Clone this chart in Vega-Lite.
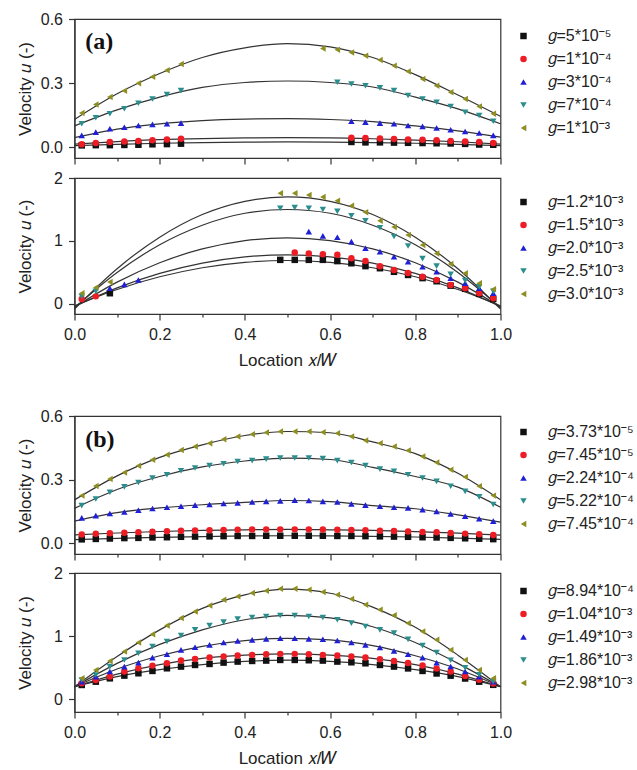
{
"$schema": "https://vega.github.io/schema/vega-lite/v6.json",
"padding": {"left": 15.5, "top": 10, "right": 0, "bottom": 0},
"background": "white",
"datasets": {
"a1p": [
{"g":"5*10⁻⁵","x":0.017,"u":0.009},{"g":"5*10⁻⁵","x":0.05,"u":0.010},{"g":"5*10⁻⁵","x":0.083,"u":0.010},{"g":"5*10⁻⁵","x":0.117,"u":0.011},{"g":"5*10⁻⁵","x":0.15,"u":0.012},{"g":"5*10⁻⁵","x":0.183,"u":0.014},{"g":"5*10⁻⁵","x":0.217,"u":0.015},{"g":"5*10⁻⁵","x":0.25,"u":0.017},
{"g":"5*10⁻⁵","x":0.65,"u":0.025},{"g":"5*10⁻⁵","x":0.683,"u":0.023},{"g":"5*10⁻⁵","x":0.717,"u":0.023},{"g":"5*10⁻⁵","x":0.75,"u":0.022},{"g":"5*10⁻⁵","x":0.783,"u":0.021},{"g":"5*10⁻⁵","x":0.817,"u":0.020},{"g":"5*10⁻⁵","x":0.85,"u":0.019},{"g":"5*10⁻⁵","x":0.883,"u":0.018},{"g":"5*10⁻⁵","x":0.917,"u":0.016},{"g":"5*10⁻⁵","x":0.95,"u":0.013},{"g":"5*10⁻⁵","x":0.983,"u":0.012},
{"g":"1*10⁻⁴","x":0.017,"u":0.014},{"g":"1*10⁻⁴","x":0.05,"u":0.020},{"g":"1*10⁻⁴","x":0.083,"u":0.025},{"g":"1*10⁻⁴","x":0.117,"u":0.027},{"g":"1*10⁻⁴","x":0.15,"u":0.030},{"g":"1*10⁻⁴","x":0.183,"u":0.033},{"g":"1*10⁻⁴","x":0.217,"u":0.036},{"g":"1*10⁻⁴","x":0.25,"u":0.040},
{"g":"1*10⁻⁴","x":0.65,"u":0.045},{"g":"1*10⁻⁴","x":0.683,"u":0.043},{"g":"1*10⁻⁴","x":0.717,"u":0.041},{"g":"1*10⁻⁴","x":0.75,"u":0.039},{"g":"1*10⁻⁴","x":0.783,"u":0.037},{"g":"1*10⁻⁴","x":0.817,"u":0.035},{"g":"1*10⁻⁴","x":0.85,"u":0.033},{"g":"1*10⁻⁴","x":0.883,"u":0.030},{"g":"1*10⁻⁴","x":0.917,"u":0.027},{"g":"1*10⁻⁴","x":0.95,"u":0.025},{"g":"1*10⁻⁴","x":0.983,"u":0.020},
{"g":"3*10⁻⁴","x":0.017,"u":0.056},{"g":"3*10⁻⁴","x":0.05,"u":0.071},{"g":"3*10⁻⁴","x":0.083,"u":0.087},{"g":"3*10⁻⁴","x":0.117,"u":0.094},{"g":"3*10⁻⁴","x":0.15,"u":0.102},{"g":"3*10⁻⁴","x":0.183,"u":0.107},{"g":"3*10⁻⁴","x":0.217,"u":0.110},{"g":"3*10⁻⁴","x":0.25,"u":0.113},
{"g":"3*10⁻⁴","x":0.65,"u":0.122},{"g":"3*10⁻⁴","x":0.683,"u":0.118},{"g":"3*10⁻⁴","x":0.717,"u":0.113},{"g":"3*10⁻⁴","x":0.75,"u":0.110},{"g":"3*10⁻⁴","x":0.783,"u":0.102},{"g":"3*10⁻⁴","x":0.817,"u":0.098},{"g":"3*10⁻⁴","x":0.85,"u":0.090},{"g":"3*10⁻⁴","x":0.883,"u":0.082},{"g":"3*10⁻⁴","x":0.917,"u":0.074},{"g":"3*10⁻⁴","x":0.95,"u":0.067},{"g":"3*10⁻⁴","x":0.983,"u":0.056},
{"g":"7*10⁻⁴","x":0.017,"u":0.110},{"g":"7*10⁻⁴","x":0.05,"u":0.138},{"g":"7*10⁻⁴","x":0.083,"u":0.157},{"g":"7*10⁻⁴","x":0.117,"u":0.180},{"g":"7*10⁻⁴","x":0.15,"u":0.206},{"g":"7*10⁻⁴","x":0.183,"u":0.226},{"g":"7*10⁻⁴","x":0.217,"u":0.247},{"g":"7*10⁻⁴","x":0.25,"u":0.265},
{"g":"7*10⁻⁴","x":0.617,"u":0.304},{"g":"7*10⁻⁴","x":0.65,"u":0.296},{"g":"7*10⁻⁴","x":0.683,"u":0.288},{"g":"7*10⁻⁴","x":0.717,"u":0.278},{"g":"7*10⁻⁴","x":0.75,"u":0.265},{"g":"7*10⁻⁴","x":0.783,"u":0.242},{"g":"7*10⁻⁴","x":0.817,"u":0.226},{"g":"7*10⁻⁴","x":0.85,"u":0.211},{"g":"7*10⁻⁴","x":0.883,"u":0.191},{"g":"7*10⁻⁴","x":0.917,"u":0.164},{"g":"7*10⁻⁴","x":0.95,"u":0.149},{"g":"7*10⁻⁴","x":0.983,"u":0.122},
{"g":"1*10⁻³","x":0.017,"u":0.160},{"g":"1*10⁻³","x":0.05,"u":0.200},{"g":"1*10⁻³","x":0.083,"u":0.235},{"g":"1*10⁻³","x":0.117,"u":0.265},{"g":"1*10⁻³","x":0.15,"u":0.300},{"g":"1*10⁻³","x":0.183,"u":0.330},{"g":"1*10⁻³","x":0.217,"u":0.360},{"g":"1*10⁻³","x":0.25,"u":0.390},
{"g":"1*10⁻³","x":0.583,"u":0.462},{"g":"1*10⁻³","x":0.617,"u":0.456},{"g":"1*10⁻³","x":0.65,"u":0.443},{"g":"1*10⁻³","x":0.683,"u":0.428},{"g":"1*10⁻³","x":0.717,"u":0.408},{"g":"1*10⁻³","x":0.75,"u":0.381},{"g":"1*10⁻³","x":0.783,"u":0.355},{"g":"1*10⁻³","x":0.817,"u":0.319},{"g":"1*10⁻³","x":0.85,"u":0.288},{"g":"1*10⁻³","x":0.883,"u":0.257},{"g":"1*10⁻³","x":0.917,"u":0.226},{"g":"1*10⁻³","x":0.95,"u":0.191},{"g":"1*10⁻³","x":0.983,"u":0.157}
],
"a1f": [
{"g":"5*10⁻⁵","x":0,"u":0.008},{"g":"5*10⁻⁵","x":0.1,"u":0.014},{"g":"5*10⁻⁵","x":0.2,"u":0.019},{"g":"5*10⁻⁵","x":0.3,"u":0.022},{"g":"5*10⁻⁵","x":0.4,"u":0.024},{"g":"5*10⁻⁵","x":0.5,"u":0.025},{"g":"5*10⁻⁵","x":0.6,"u":0.024},{"g":"5*10⁻⁵","x":0.7,"u":0.022},{"g":"5*10⁻⁵","x":0.8,"u":0.019},{"g":"5*10⁻⁵","x":0.9,"u":0.014},{"g":"5*10⁻⁵","x":1,"u":0.008},
{"g":"1*10⁻⁴","x":0,"u":0.015},{"g":"1*10⁻⁴","x":0.1,"u":0.027},{"g":"1*10⁻⁴","x":0.2,"u":0.036},{"g":"1*10⁻⁴","x":0.3,"u":0.041},{"g":"1*10⁻⁴","x":0.4,"u":0.044},{"g":"1*10⁻⁴","x":0.5,"u":0.045},{"g":"1*10⁻⁴","x":0.6,"u":0.044},{"g":"1*10⁻⁴","x":0.7,"u":0.040},{"g":"1*10⁻⁴","x":0.8,"u":0.034},{"g":"1*10⁻⁴","x":0.9,"u":0.026},{"g":"1*10⁻⁴","x":1,"u":0.015},
{"g":"3*10⁻⁴","x":0,"u":0.045},{"g":"3*10⁻⁴","x":0.1,"u":0.085},{"g":"3*10⁻⁴","x":0.2,"u":0.110},{"g":"3*10⁻⁴","x":0.3,"u":0.125},{"g":"3*10⁻⁴","x":0.4,"u":0.132},{"g":"3*10⁻⁴","x":0.5,"u":0.134},{"g":"3*10⁻⁴","x":0.6,"u":0.130},{"g":"3*10⁻⁴","x":0.7,"u":0.120},{"g":"3*10⁻⁴","x":0.8,"u":0.100},{"g":"3*10⁻⁴","x":0.9,"u":0.077},{"g":"3*10⁻⁴","x":1,"u":0.048},
{"g":"7*10⁻⁴","x":0,"u":0.100},{"g":"7*10⁻⁴","x":0.1,"u":0.175},{"g":"7*10⁻⁴","x":0.2,"u":0.235},{"g":"7*10⁻⁴","x":0.3,"u":0.280},{"g":"7*10⁻⁴","x":0.4,"u":0.303},{"g":"7*10⁻⁴","x":0.5,"u":0.310},{"g":"7*10⁻⁴","x":0.6,"u":0.303},{"g":"7*10⁻⁴","x":0.7,"u":0.282},{"g":"7*10⁻⁴","x":0.8,"u":0.235},{"g":"7*10⁻⁴","x":0.9,"u":0.180},{"g":"7*10⁻⁴","x":1,"u":0.110},
{"g":"1*10⁻³","x":0,"u":0.130},{"g":"1*10⁻³","x":0.1,"u":0.250},{"g":"1*10⁻³","x":0.2,"u":0.345},{"g":"1*10⁻³","x":0.3,"u":0.420},{"g":"1*10⁻³","x":0.4,"u":0.465},{"g":"1*10⁻³","x":0.5,"u":0.485},{"g":"1*10⁻³","x":0.6,"u":0.470},{"g":"1*10⁻³","x":0.7,"u":0.420},{"g":"1*10⁻³","x":0.8,"u":0.340},{"g":"1*10⁻³","x":0.9,"u":0.245},{"g":"1*10⁻³","x":1,"u":0.145}
],
"a2p": [
{"g":"1.2*10⁻³","x":0.083,"u":0.17},
{"g":"1.2*10⁻³","x":0.483,"u":0.70},{"g":"1.2*10⁻³","x":0.517,"u":0.70},{"g":"1.2*10⁻³","x":0.55,"u":0.70},{"g":"1.2*10⁻³","x":0.583,"u":0.70},{"g":"1.2*10⁻³","x":0.617,"u":0.68},{"g":"1.2*10⁻³","x":0.65,"u":0.646},{"g":"1.2*10⁻³","x":0.683,"u":0.60},{"g":"1.2*10⁻³","x":0.717,"u":0.567},{"g":"1.2*10⁻³","x":0.75,"u":0.51},{"g":"1.2*10⁻³","x":0.783,"u":0.46},{"g":"1.2*10⁻³","x":0.817,"u":0.41},{"g":"1.2*10⁻³","x":0.85,"u":0.36},{"g":"1.2*10⁻³","x":0.883,"u":0.29},{"g":"1.2*10⁻³","x":0.917,"u":0.24},{"g":"1.2*10⁻³","x":0.95,"u":0.16},{"g":"1.2*10⁻³","x":0.983,"u":0.08},
{"g":"1.5*10⁻³","x":0.017,"u":0.08},{"g":"1.5*10⁻³","x":0.05,"u":0.12},
{"g":"1.5*10⁻³","x":0.517,"u":0.815},{"g":"1.5*10⁻³","x":0.55,"u":0.80},{"g":"1.5*10⁻³","x":0.583,"u":0.79},{"g":"1.5*10⁻³","x":0.617,"u":0.78},{"g":"1.5*10⁻³","x":0.65,"u":0.725},{"g":"1.5*10⁻³","x":0.683,"u":0.68},{"g":"1.5*10⁻³","x":0.717,"u":0.60},{"g":"1.5*10⁻³","x":0.75,"u":0.54},{"g":"1.5*10⁻³","x":0.783,"u":0.49},{"g":"1.5*10⁻³","x":0.817,"u":0.43},{"g":"1.5*10⁻³","x":0.85,"u":0.38},{"g":"1.5*10⁻³","x":0.883,"u":0.30},{"g":"1.5*10⁻³","x":0.917,"u":0.25},{"g":"1.5*10⁻³","x":0.95,"u":0.17},{"g":"1.5*10⁻³","x":0.983,"u":0.09},
{"g":"2.0*10⁻³","x":0.083,"u":0.25},{"g":"2.0*10⁻³","x":0.117,"u":0.31},{"g":"2.0*10⁻³","x":0.15,"u":0.38},
{"g":"2.0*10⁻³","x":0.55,"u":1.148},{"g":"2.0*10⁻³","x":0.583,"u":1.08},{"g":"2.0*10⁻³","x":0.617,"u":1.06},{"g":"2.0*10⁻³","x":0.65,"u":0.99},{"g":"2.0*10⁻³","x":0.683,"u":0.884},{"g":"2.0*10⁻³","x":0.717,"u":0.83},{"g":"2.0*10⁻³","x":0.75,"u":0.75},{"g":"2.0*10⁻³","x":0.783,"u":0.67},{"g":"2.0*10⁻³","x":0.817,"u":0.59},{"g":"2.0*10⁻³","x":0.85,"u":0.51},{"g":"2.0*10⁻³","x":0.883,"u":0.41},{"g":"2.0*10⁻³","x":0.917,"u":0.33},{"g":"2.0*10⁻³","x":0.95,"u":0.25},{"g":"2.0*10⁻³","x":0.983,"u":0.17},
{"g":"2.5*10⁻³","x":0.017,"u":0.12},{"g":"2.5*10⁻³","x":0.05,"u":0.20},
{"g":"2.5*10⁻³","x":0.483,"u":1.52},{"g":"2.5*10⁻³","x":0.517,"u":1.53},{"g":"2.5*10⁻³","x":0.55,"u":1.52},{"g":"2.5*10⁻³","x":0.583,"u":1.50},{"g":"2.5*10⁻³","x":0.617,"u":1.47},{"g":"2.5*10⁻³","x":0.65,"u":1.40},{"g":"2.5*10⁻³","x":0.683,"u":1.32},{"g":"2.5*10⁻³","x":0.717,"u":1.21},{"g":"2.5*10⁻³","x":0.75,"u":1.07},{"g":"2.5*10⁻³","x":0.783,"u":0.92},{"g":"2.5*10⁻³","x":0.817,"u":0.72},{"g":"2.5*10⁻³","x":0.85,"u":0.60},{"g":"2.5*10⁻³","x":0.883,"u":0.47},{"g":"2.5*10⁻³","x":0.917,"u":0.37},{"g":"2.5*10⁻³","x":0.95,"u":0.27},{"g":"2.5*10⁻³","x":0.983,"u":0.20},
{"g":"3.0*10⁻³","x":0.017,"u":0.17},{"g":"3.0*10⁻³","x":0.05,"u":0.26},{"g":"3.0*10⁻³","x":0.083,"u":0.35},
{"g":"3.0*10⁻³","x":0.483,"u":1.757},{"g":"3.0*10⁻³","x":0.517,"u":1.757},{"g":"3.0*10⁻³","x":0.55,"u":1.73},{"g":"3.0*10⁻³","x":0.583,"u":1.70},{"g":"3.0*10⁻³","x":0.617,"u":1.64},{"g":"3.0*10⁻³","x":0.65,"u":1.56},{"g":"3.0*10⁻³","x":0.683,"u":1.455},{"g":"3.0*10⁻³","x":0.717,"u":1.32},{"g":"3.0*10⁻³","x":0.75,"u":1.22},{"g":"3.0*10⁻³","x":0.783,"u":1.095},{"g":"3.0*10⁻³","x":0.817,"u":0.936},{"g":"3.0*10⁻³","x":0.85,"u":0.80},{"g":"3.0*10⁻³","x":0.883,"u":0.635},{"g":"3.0*10⁻³","x":0.917,"u":0.487},{"g":"3.0*10⁻³","x":0.95,"u":0.328},{"g":"3.0*10⁻³","x":0.983,"u":0.233}
],
"a2f": [
{"g":"1.2*10⁻³","x":0,"u":-0.03},{"g":"1.2*10⁻³","x":0.1,"u":0.229},{"g":"1.2*10⁻³","x":0.2,"u":0.431},{"g":"1.2*10⁻³","x":0.3,"u":0.575},{"g":"1.2*10⁻³","x":0.4,"u":0.661},{"g":"1.2*10⁻³","x":0.5,"u":0.69},{"g":"1.2*10⁻³","x":0.6,"u":0.661},{"g":"1.2*10⁻³","x":0.7,"u":0.575},{"g":"1.2*10⁻³","x":0.8,"u":0.431},{"g":"1.2*10⁻³","x":0.9,"u":0.229},{"g":"1.2*10⁻³","x":1,"u":-0.03},
{"g":"1.5*10⁻³","x":0,"u":-0.04},{"g":"1.5*10⁻³","x":0.1,"u":0.255},{"g":"1.5*10⁻³","x":0.2,"u":0.485},{"g":"1.5*10⁻³","x":0.3,"u":0.649},{"g":"1.5*10⁻³","x":0.4,"u":0.747},{"g":"1.5*10⁻³","x":0.5,"u":0.78},{"g":"1.5*10⁻³","x":0.6,"u":0.747},{"g":"1.5*10⁻³","x":0.7,"u":0.649},{"g":"1.5*10⁻³","x":0.8,"u":0.485},{"g":"1.5*10⁻³","x":0.9,"u":0.255},{"g":"1.5*10⁻³","x":1,"u":-0.04},
{"g":"2.0*10⁻³","x":0,"u":-0.05},{"g":"2.0*10⁻³","x":0.1,"u":0.346},{"g":"2.0*10⁻³","x":0.2,"u":0.654},{"g":"2.0*10⁻³","x":0.3,"u":0.874},{"g":"2.0*10⁻³","x":0.4,"u":1.006},{"g":"2.0*10⁻³","x":0.5,"u":1.05},{"g":"2.0*10⁻³","x":0.6,"u":1.006},{"g":"2.0*10⁻³","x":0.7,"u":0.874},{"g":"2.0*10⁻³","x":0.8,"u":0.654},{"g":"2.0*10⁻³","x":0.9,"u":0.346},{"g":"2.0*10⁻³","x":1,"u":-0.05},
{"g":"2.5*10⁻³","x":0,"u":-0.06},{"g":"2.5*10⁻³","x":0.1,"u":0.50},{"g":"2.5*10⁻³","x":0.2,"u":0.94},{"g":"2.5*10⁻³","x":0.3,"u":1.25},{"g":"2.5*10⁻³","x":0.4,"u":1.44},{"g":"2.5*10⁻³","x":0.5,"u":1.50},{"g":"2.5*10⁻³","x":0.6,"u":1.44},{"g":"2.5*10⁻³","x":0.7,"u":1.25},{"g":"2.5*10⁻³","x":0.8,"u":0.94},{"g":"2.5*10⁻³","x":0.9,"u":0.50},{"g":"2.5*10⁻³","x":1,"u":-0.06},
{"g":"3.0*10⁻³","x":0,"u":-0.08},{"g":"3.0*10⁻³","x":0.1,"u":0.56},{"g":"3.0*10⁻³","x":0.2,"u":1.06},{"g":"3.0*10⁻³","x":0.3,"u":1.42},{"g":"3.0*10⁻³","x":0.4,"u":1.63},{"g":"3.0*10⁻³","x":0.5,"u":1.70},{"g":"3.0*10⁻³","x":0.6,"u":1.63},{"g":"3.0*10⁻³","x":0.7,"u":1.42},{"g":"3.0*10⁻³","x":0.8,"u":1.06},{"g":"3.0*10⁻³","x":0.9,"u":0.56},{"g":"3.0*10⁻³","x":1,"u":-0.08}
],
"b1p": [
{"g":"3.73*10⁻⁵","x":0.017,"u":0.019},{"g":"3.73*10⁻⁵","x":0.05,"u":0.021},{"g":"3.73*10⁻⁵","x":0.083,"u":0.023},{"g":"3.73*10⁻⁵","x":0.117,"u":0.025},{"g":"3.73*10⁻⁵","x":0.15,"u":0.026},{"g":"3.73*10⁻⁵","x":0.183,"u":0.028},{"g":"3.73*10⁻⁵","x":0.217,"u":0.029},{"g":"3.73*10⁻⁵","x":0.25,"u":0.031},{"g":"3.73*10⁻⁵","x":0.283,"u":0.032},{"g":"3.73*10⁻⁵","x":0.317,"u":0.033},{"g":"3.73*10⁻⁵","x":0.35,"u":0.034},{"g":"3.73*10⁻⁵","x":0.383,"u":0.035},{"g":"3.73*10⁻⁵","x":0.417,"u":0.035},{"g":"3.73*10⁻⁵","x":0.45,"u":0.036},{"g":"3.73*10⁻⁵","x":0.483,"u":0.036},{"g":"3.73*10⁻⁵","x":0.517,"u":0.036},{"g":"3.73*10⁻⁵","x":0.55,"u":0.036},{"g":"3.73*10⁻⁵","x":0.583,"u":0.036},{"g":"3.73*10⁻⁵","x":0.617,"u":0.035},{"g":"3.73*10⁻⁵","x":0.65,"u":0.035},{"g":"3.73*10⁻⁵","x":0.683,"u":0.034},{"g":"3.73*10⁻⁵","x":0.717,"u":0.033},{"g":"3.73*10⁻⁵","x":0.75,"u":0.032},{"g":"3.73*10⁻⁵","x":0.783,"u":0.031},{"g":"3.73*10⁻⁵","x":0.817,"u":0.029},{"g":"3.73*10⁻⁵","x":0.85,"u":0.028},{"g":"3.73*10⁻⁵","x":0.883,"u":0.026},{"g":"3.73*10⁻⁵","x":0.917,"u":0.024},{"g":"3.73*10⁻⁵","x":0.95,"u":0.022},{"g":"3.73*10⁻⁵","x":0.983,"u":0.020},
{"g":"7.45*10⁻⁵","x":0.017,"u":0.042},{"g":"7.45*10⁻⁵","x":0.05,"u":0.045},{"g":"7.45*10⁻⁵","x":0.083,"u":0.048},{"g":"7.45*10⁻⁵","x":0.117,"u":0.050},{"g":"7.45*10⁻⁵","x":0.15,"u":0.053},{"g":"7.45*10⁻⁵","x":0.183,"u":0.055},{"g":"7.45*10⁻⁵","x":0.217,"u":0.057},{"g":"7.45*10⁻⁵","x":0.25,"u":0.059},{"g":"7.45*10⁻⁵","x":0.283,"u":0.061},{"g":"7.45*10⁻⁵","x":0.317,"u":0.062},{"g":"7.45*10⁻⁵","x":0.35,"u":0.063},{"g":"7.45*10⁻⁵","x":0.383,"u":0.064},{"g":"7.45*10⁻⁵","x":0.417,"u":0.065},{"g":"7.45*10⁻⁵","x":0.45,"u":0.066},{"g":"7.45*10⁻⁵","x":0.483,"u":0.066},{"g":"7.45*10⁻⁵","x":0.517,"u":0.066},{"g":"7.45*10⁻⁵","x":0.55,"u":0.066},{"g":"7.45*10⁻⁵","x":0.583,"u":0.065},{"g":"7.45*10⁻⁵","x":0.617,"u":0.064},{"g":"7.45*10⁻⁵","x":0.65,"u":0.063},{"g":"7.45*10⁻⁵","x":0.683,"u":0.062},{"g":"7.45*10⁻⁵","x":0.717,"u":0.060},{"g":"7.45*10⁻⁵","x":0.75,"u":0.058},{"g":"7.45*10⁻⁵","x":0.783,"u":0.056},{"g":"7.45*10⁻⁵","x":0.817,"u":0.054},{"g":"7.45*10⁻⁵","x":0.85,"u":0.052},{"g":"7.45*10⁻⁵","x":0.883,"u":0.049},{"g":"7.45*10⁻⁵","x":0.917,"u":0.046},{"g":"7.45*10⁻⁵","x":0.95,"u":0.043},{"g":"7.45*10⁻⁵","x":0.983,"u":0.040},
{"g":"2.24*10⁻⁴","x":0.017,"u":0.120},{"g":"2.24*10⁻⁴","x":0.05,"u":0.131},{"g":"2.24*10⁻⁴","x":0.083,"u":0.141},{"g":"2.24*10⁻⁴","x":0.117,"u":0.148},{"g":"2.24*10⁻⁴","x":0.15,"u":0.156},{"g":"2.24*10⁻⁴","x":0.183,"u":0.164},{"g":"2.24*10⁻⁴","x":0.217,"u":0.170},{"g":"2.24*10⁻⁴","x":0.25,"u":0.175},{"g":"2.24*10⁻⁴","x":0.283,"u":0.180},{"g":"2.24*10⁻⁴","x":0.317,"u":0.183},{"g":"2.24*10⁻⁴","x":0.35,"u":0.188},{"g":"2.24*10⁻⁴","x":0.383,"u":0.191},{"g":"2.24*10⁻⁴","x":0.417,"u":0.195},{"g":"2.24*10⁻⁴","x":0.45,"u":0.198},{"g":"2.24*10⁻⁴","x":0.483,"u":0.200},{"g":"2.24*10⁻⁴","x":0.517,"u":0.204},{"g":"2.24*10⁻⁴","x":0.55,"u":0.202},{"g":"2.24*10⁻⁴","x":0.583,"u":0.198},{"g":"2.24*10⁻⁴","x":0.617,"u":0.195},{"g":"2.24*10⁻⁴","x":0.65,"u":0.186},{"g":"2.24*10⁻⁴","x":0.683,"u":0.180},{"g":"2.24*10⁻⁴","x":0.717,"u":0.175},{"g":"2.24*10⁻⁴","x":0.75,"u":0.170},{"g":"2.24*10⁻⁴","x":0.783,"u":0.167},{"g":"2.24*10⁻⁴","x":0.817,"u":0.159},{"g":"2.24*10⁻⁴","x":0.85,"u":0.151},{"g":"2.24*10⁻⁴","x":0.883,"u":0.139},{"g":"2.24*10⁻⁴","x":0.917,"u":0.128},{"g":"2.24*10⁻⁴","x":0.95,"u":0.116},{"g":"2.24*10⁻⁴","x":0.983,"u":0.105},
{"g":"5.22*10⁻⁴","x":0.017,"u":0.178},{"g":"5.22*10⁻⁴","x":0.05,"u":0.209},{"g":"5.22*10⁻⁴","x":0.083,"u":0.241},{"g":"5.22*10⁻⁴","x":0.117,"u":0.266},{"g":"5.22*10⁻⁴","x":0.15,"u":0.287},{"g":"5.22*10⁻⁴","x":0.183,"u":0.308},{"g":"5.22*10⁻⁴","x":0.217,"u":0.323},{"g":"5.22*10⁻⁴","x":0.25,"u":0.342},{"g":"5.22*10⁻⁴","x":0.283,"u":0.355},{"g":"5.22*10⁻⁴","x":0.317,"u":0.366},{"g":"5.22*10⁻⁴","x":0.35,"u":0.375},{"g":"5.22*10⁻⁴","x":0.383,"u":0.386},{"g":"5.22*10⁻⁴","x":0.417,"u":0.390},{"g":"5.22*10⁻⁴","x":0.45,"u":0.397},{"g":"5.22*10⁻⁴","x":0.483,"u":0.402},{"g":"5.22*10⁻⁴","x":0.517,"u":0.402},{"g":"5.22*10⁻⁴","x":0.55,"u":0.402},{"g":"5.22*10⁻⁴","x":0.583,"u":0.399},{"g":"5.22*10⁻⁴","x":0.617,"u":0.390},{"g":"5.22*10⁻⁴","x":0.65,"u":0.381},{"g":"5.22*10⁻⁴","x":0.683,"u":0.366},{"g":"5.22*10⁻⁴","x":0.717,"u":0.350},{"g":"5.22*10⁻⁴","x":0.75,"u":0.339},{"g":"5.22*10⁻⁴","x":0.783,"u":0.323},{"g":"5.22*10⁻⁴","x":0.817,"u":0.308},{"g":"5.22*10⁻⁴","x":0.85,"u":0.292},{"g":"5.22*10⁻⁴","x":0.883,"u":0.269},{"g":"5.22*10⁻⁴","x":0.917,"u":0.245},{"g":"5.22*10⁻⁴","x":0.95,"u":0.219},{"g":"5.22*10⁻⁴","x":0.983,"u":0.183},
{"g":"7.45*10⁻⁴","x":0.017,"u":0.225},{"g":"7.45*10⁻⁴","x":0.05,"u":0.270},{"g":"7.45*10⁻⁴","x":0.083,"u":0.303},{"g":"7.45*10⁻⁴","x":0.117,"u":0.334},{"g":"7.45*10⁻⁴","x":0.15,"u":0.366},{"g":"7.45*10⁻⁴","x":0.183,"u":0.394},{"g":"7.45*10⁻⁴","x":0.217,"u":0.417},{"g":"7.45*10⁻⁴","x":0.25,"u":0.440},{"g":"7.45*10⁻⁴","x":0.283,"u":0.456},{"g":"7.45*10⁻⁴","x":0.317,"u":0.472},{"g":"7.45*10⁻⁴","x":0.35,"u":0.490},{"g":"7.45*10⁻⁴","x":0.383,"u":0.503},{"g":"7.45*10⁻⁴","x":0.417,"u":0.514},{"g":"7.45*10⁻⁴","x":0.45,"u":0.522},{"g":"7.45*10⁻⁴","x":0.483,"u":0.527},{"g":"7.45*10⁻⁴","x":0.517,"u":0.527},{"g":"7.45*10⁻⁴","x":0.55,"u":0.527},{"g":"7.45*10⁻⁴","x":0.583,"u":0.524},{"g":"7.45*10⁻⁴","x":0.617,"u":0.519},{"g":"7.45*10⁻⁴","x":0.65,"u":0.503},{"g":"7.45*10⁻⁴","x":0.683,"u":0.485},{"g":"7.45*10⁻⁴","x":0.717,"u":0.472},{"g":"7.45*10⁻⁴","x":0.75,"u":0.456},{"g":"7.45*10⁻⁴","x":0.783,"u":0.437},{"g":"7.45*10⁻⁴","x":0.817,"u":0.409},{"g":"7.45*10⁻⁴","x":0.85,"u":0.381},{"g":"7.45*10⁻⁴","x":0.883,"u":0.347},{"g":"7.45*10⁻⁴","x":0.917,"u":0.313},{"g":"7.45*10⁻⁴","x":0.95,"u":0.269},{"g":"7.45*10⁻⁴","x":0.983,"u":0.225}
],
"b1f": [
{"g":"3.73*10⁻⁵","x":0,"u":0.018},{"g":"3.73*10⁻⁵","x":0.1,"u":0.024},{"g":"3.73*10⁻⁵","x":0.2,"u":0.028},{"g":"3.73*10⁻⁵","x":0.3,"u":0.032},{"g":"3.73*10⁻⁵","x":0.4,"u":0.035},{"g":"3.73*10⁻⁵","x":0.5,"u":0.036},{"g":"3.73*10⁻⁵","x":0.6,"u":0.035},{"g":"3.73*10⁻⁵","x":0.7,"u":0.033},{"g":"3.73*10⁻⁵","x":0.8,"u":0.030},{"g":"3.73*10⁻⁵","x":0.9,"u":0.025},{"g":"3.73*10⁻⁵","x":1,"u":0.019},
{"g":"7.45*10⁻⁵","x":0,"u":0.040},{"g":"7.45*10⁻⁵","x":0.1,"u":0.049},{"g":"7.45*10⁻⁵","x":0.2,"u":0.056},{"g":"7.45*10⁻⁵","x":0.3,"u":0.061},{"g":"7.45*10⁻⁵","x":0.4,"u":0.064},{"g":"7.45*10⁻⁵","x":0.5,"u":0.066},{"g":"7.45*10⁻⁵","x":0.6,"u":0.064},{"g":"7.45*10⁻⁵","x":0.7,"u":0.061},{"g":"7.45*10⁻⁵","x":0.8,"u":0.055},{"g":"7.45*10⁻⁵","x":0.9,"u":0.048},{"g":"7.45*10⁻⁵","x":1,"u":0.039},
{"g":"2.24*10⁻⁴","x":0,"u":0.105},{"g":"2.24*10⁻⁴","x":0.1,"u":0.145},{"g":"2.24*10⁻⁴","x":0.2,"u":0.167},{"g":"2.24*10⁻⁴","x":0.3,"u":0.182},{"g":"2.24*10⁻⁴","x":0.4,"u":0.193},{"g":"2.24*10⁻⁴","x":0.5,"u":0.202},{"g":"2.24*10⁻⁴","x":0.6,"u":0.197},{"g":"2.24*10⁻⁴","x":0.7,"u":0.178},{"g":"2.24*10⁻⁴","x":0.8,"u":0.163},{"g":"2.24*10⁻⁴","x":0.9,"u":0.134},{"g":"2.24*10⁻⁴","x":1,"u":0.100},
{"g":"5.22*10⁻⁴","x":0,"u":0.165},{"g":"5.22*10⁻⁴","x":0.1,"u":0.254},{"g":"5.22*10⁻⁴","x":0.2,"u":0.315},{"g":"5.22*10⁻⁴","x":0.3,"u":0.360},{"g":"5.22*10⁻⁴","x":0.4,"u":0.388},{"g":"5.22*10⁻⁴","x":0.5,"u":0.402},{"g":"5.22*10⁻⁴","x":0.6,"u":0.395},{"g":"5.22*10⁻⁴","x":0.7,"u":0.358},{"g":"5.22*10⁻⁴","x":0.8,"u":0.315},{"g":"5.22*10⁻⁴","x":0.9,"u":0.265},{"g":"5.22*10⁻⁴","x":1,"u":0.170},
{"g":"7.45*10⁻⁴","x":0,"u":0.205},{"g":"7.45*10⁻⁴","x":0.1,"u":0.318},{"g":"7.45*10⁻⁴","x":0.2,"u":0.405},{"g":"7.45*10⁻⁴","x":0.3,"u":0.464},{"g":"7.45*10⁻⁴","x":0.4,"u":0.508},{"g":"7.45*10⁻⁴","x":0.5,"u":0.527},{"g":"7.45*10⁻⁴","x":0.6,"u":0.521},{"g":"7.45*10⁻⁴","x":0.7,"u":0.478},{"g":"7.45*10⁻⁴","x":0.8,"u":0.423},{"g":"7.45*10⁻⁴","x":0.9,"u":0.330},{"g":"7.45*10⁻⁴","x":1,"u":0.205}
],
"b2p": [
{"g":"8.94*10⁻⁴","x":0.017,"u":0.228},{"g":"8.94*10⁻⁴","x":0.05,"u":0.28},{"g":"8.94*10⁻⁴","x":0.083,"u":0.333},{"g":"8.94*10⁻⁴","x":0.117,"u":0.376},{"g":"8.94*10⁻⁴","x":0.15,"u":0.413},{"g":"8.94*10⁻⁴","x":0.183,"u":0.45},{"g":"8.94*10⁻⁴","x":0.217,"u":0.492},{"g":"8.94*10⁻⁴","x":0.25,"u":0.519},{"g":"8.94*10⁻⁴","x":0.283,"u":0.545},{"g":"8.94*10⁻⁴","x":0.317,"u":0.561},{"g":"8.94*10⁻⁴","x":0.35,"u":0.582},{"g":"8.94*10⁻⁴","x":0.383,"u":0.598},{"g":"8.94*10⁻⁴","x":0.417,"u":0.608},{"g":"8.94*10⁻⁴","x":0.45,"u":0.614},{"g":"8.94*10⁻⁴","x":0.483,"u":0.624},{"g":"8.94*10⁻⁴","x":0.517,"u":0.624},{"g":"8.94*10⁻⁴","x":0.55,"u":0.619},{"g":"8.94*10⁻⁴","x":0.583,"u":0.614},{"g":"8.94*10⁻⁴","x":0.617,"u":0.598},{"g":"8.94*10⁻⁴","x":0.65,"u":0.587},{"g":"8.94*10⁻⁴","x":0.683,"u":0.571},{"g":"8.94*10⁻⁴","x":0.717,"u":0.545},{"g":"8.94*10⁻⁴","x":0.75,"u":0.519},{"g":"8.94*10⁻⁴","x":0.783,"u":0.49},{"g":"8.94*10⁻⁴","x":0.817,"u":0.45},{"g":"8.94*10⁻⁴","x":0.85,"u":0.41},{"g":"8.94*10⁻⁴","x":0.883,"u":0.375},{"g":"8.94*10⁻⁴","x":0.917,"u":0.33},{"g":"8.94*10⁻⁴","x":0.95,"u":0.28},{"g":"8.94*10⁻⁴","x":0.983,"u":0.23},
{"g":"1.04*10⁻³","x":0.017,"u":0.254},{"g":"1.04*10⁻³","x":0.05,"u":0.307},{"g":"1.04*10⁻³","x":0.083,"u":0.36},{"g":"1.04*10⁻³","x":0.117,"u":0.44},{"g":"1.04*10⁻³","x":0.15,"u":0.492},{"g":"1.04*10⁻³","x":0.183,"u":0.534},{"g":"1.04*10⁻³","x":0.217,"u":0.571},{"g":"1.04*10⁻³","x":0.25,"u":0.614},{"g":"1.04*10⁻³","x":0.283,"u":0.64},{"g":"1.04*10⁻³","x":0.317,"u":0.661},{"g":"1.04*10⁻³","x":0.35,"u":0.677},{"g":"1.04*10⁻³","x":0.383,"u":0.693},{"g":"1.04*10⁻³","x":0.417,"u":0.704},{"g":"1.04*10⁻³","x":0.45,"u":0.714},{"g":"1.04*10⁻³","x":0.483,"u":0.72},{"g":"1.04*10⁻³","x":0.517,"u":0.72},{"g":"1.04*10⁻³","x":0.55,"u":0.714},{"g":"1.04*10⁻³","x":0.583,"u":0.704},{"g":"1.04*10⁻³","x":0.617,"u":0.693},{"g":"1.04*10⁻³","x":0.65,"u":0.677},{"g":"1.04*10⁻³","x":0.683,"u":0.661},{"g":"1.04*10⁻³","x":0.717,"u":0.635},{"g":"1.04*10⁻³","x":0.75,"u":0.608},{"g":"1.04*10⁻³","x":0.783,"u":0.575},{"g":"1.04*10⁻³","x":0.817,"u":0.535},{"g":"1.04*10⁻³","x":0.85,"u":0.49},{"g":"1.04*10⁻³","x":0.883,"u":0.44},{"g":"1.04*10⁻³","x":0.917,"u":0.37},{"g":"1.04*10⁻³","x":0.95,"u":0.31},{"g":"1.04*10⁻³","x":0.983,"u":0.25},
{"g":"1.49*10⁻³","x":0.017,"u":0.28},{"g":"1.49*10⁻³","x":0.05,"u":0.36},{"g":"1.49*10⁻³","x":0.083,"u":0.44},{"g":"1.49*10⁻³","x":0.117,"u":0.519},{"g":"1.49*10⁻³","x":0.15,"u":0.582},{"g":"1.49*10⁻³","x":0.183,"u":0.661},{"g":"1.49*10⁻³","x":0.217,"u":0.714},{"g":"1.49*10⁻³","x":0.25,"u":0.783},{"g":"1.49*10⁻³","x":0.283,"u":0.825},{"g":"1.49*10⁻³","x":0.317,"u":0.862},{"g":"1.49*10⁻³","x":0.35,"u":0.9},{"g":"1.49*10⁻³","x":0.383,"u":0.926},{"g":"1.49*10⁻³","x":0.417,"u":0.942},{"g":"1.49*10⁻³","x":0.45,"u":0.958},{"g":"1.49*10⁻³","x":0.483,"u":0.968},{"g":"1.49*10⁻³","x":0.517,"u":0.968},{"g":"1.49*10⁻³","x":0.55,"u":0.958},{"g":"1.49*10⁻³","x":0.583,"u":0.952},{"g":"1.49*10⁻³","x":0.617,"u":0.931},{"g":"1.49*10⁻³","x":0.65,"u":0.9},{"g":"1.49*10⁻³","x":0.683,"u":0.862},{"g":"1.49*10⁻³","x":0.717,"u":0.82},{"g":"1.49*10⁻³","x":0.75,"u":0.767},{"g":"1.49*10⁻³","x":0.783,"u":0.715},{"g":"1.49*10⁻³","x":0.817,"u":0.66},{"g":"1.49*10⁻³","x":0.85,"u":0.58},{"g":"1.49*10⁻³","x":0.883,"u":0.52},{"g":"1.49*10⁻³","x":0.917,"u":0.44},{"g":"1.49*10⁻³","x":0.95,"u":0.36},{"g":"1.49*10⁻³","x":0.983,"u":0.28},
{"g":"1.86*10⁻³","x":0.017,"u":0.307},{"g":"1.86*10⁻³","x":0.05,"u":0.386},{"g":"1.86*10⁻³","x":0.083,"u":0.519},{"g":"1.86*10⁻³","x":0.117,"u":0.624},{"g":"1.86*10⁻³","x":0.15,"u":0.73},{"g":"1.86*10⁻³","x":0.183,"u":0.836},{"g":"1.86*10⁻³","x":0.217,"u":0.915},{"g":"1.86*10⁻³","x":0.25,"u":1.01},{"g":"1.86*10⁻³","x":0.283,"u":1.1},{"g":"1.86*10⁻³","x":0.317,"u":1.17},{"g":"1.86*10⁻³","x":0.35,"u":1.222},{"g":"1.86*10⁻³","x":0.383,"u":1.27},{"g":"1.86*10⁻³","x":0.417,"u":1.296},{"g":"1.86*10⁻³","x":0.45,"u":1.312},{"g":"1.86*10⁻³","x":0.483,"u":1.328},{"g":"1.86*10⁻³","x":0.517,"u":1.328},{"g":"1.86*10⁻³","x":0.55,"u":1.312},{"g":"1.86*10⁻³","x":0.583,"u":1.296},{"g":"1.86*10⁻³","x":0.617,"u":1.259},{"g":"1.86*10⁻³","x":0.65,"u":1.206},{"g":"1.86*10⁻³","x":0.683,"u":1.153},{"g":"1.86*10⁻³","x":0.717,"u":1.10},{"g":"1.86*10⁻³","x":0.75,"u":1.048},{"g":"1.86*10⁻³","x":0.783,"u":0.95},{"g":"1.86*10⁻³","x":0.817,"u":0.85},{"g":"1.86*10⁻³","x":0.85,"u":0.74},{"g":"1.86*10⁻³","x":0.883,"u":0.62},{"g":"1.86*10⁻³","x":0.917,"u":0.5},{"g":"1.86*10⁻³","x":0.95,"u":0.39},{"g":"1.86*10⁻³","x":0.983,"u":0.28},
{"g":"2.98*10⁻³","x":0.017,"u":0.333},{"g":"2.98*10⁻³","x":0.05,"u":0.466},{"g":"2.98*10⁻³","x":0.083,"u":0.608},{"g":"2.98*10⁻³","x":0.117,"u":0.757},{"g":"2.98*10⁻³","x":0.15,"u":0.9},{"g":"2.98*10⁻³","x":0.183,"u":1.03},{"g":"2.98*10⁻³","x":0.217,"u":1.17},{"g":"2.98*10⁻³","x":0.25,"u":1.286},{"g":"2.98*10⁻³","x":0.283,"u":1.39},{"g":"2.98*10⁻³","x":0.317,"u":1.487},{"g":"2.98*10⁻³","x":0.35,"u":1.577},{"g":"2.98*10⁻³","x":0.383,"u":1.63},{"g":"2.98*10⁻³","x":0.417,"u":1.683},{"g":"2.98*10⁻³","x":0.45,"u":1.72},{"g":"2.98*10⁻³","x":0.483,"u":1.75},{"g":"2.98*10⁻³","x":0.517,"u":1.75},{"g":"2.98*10⁻³","x":0.55,"u":1.735},{"g":"2.98*10⁻³","x":0.583,"u":1.70},{"g":"2.98*10⁻³","x":0.617,"u":1.656},{"g":"2.98*10⁻³","x":0.65,"u":1.587},{"g":"2.98*10⁻³","x":0.683,"u":1.497},{"g":"2.98*10⁻³","x":0.717,"u":1.418},{"g":"2.98*10⁻³","x":0.75,"u":1.33},{"g":"2.98*10⁻³","x":0.783,"u":1.206},{"g":"2.98*10⁻³","x":0.817,"u":1.074},{"g":"2.98*10⁻³","x":0.85,"u":0.942},{"g":"2.98*10⁻³","x":0.883,"u":0.783},{"g":"2.98*10⁻³","x":0.917,"u":0.624},{"g":"2.98*10⁻³","x":0.95,"u":0.466},{"g":"2.98*10⁻³","x":0.983,"u":0.333}
],
"b2f": [
{"g":"8.94*10⁻⁴","x":0,"u":0.2},{"g":"8.94*10⁻⁴","x":0.1,"u":0.36},{"g":"8.94*10⁻⁴","x":0.2,"u":0.47},{"g":"8.94*10⁻⁴","x":0.3,"u":0.55},{"g":"8.94*10⁻⁴","x":0.4,"u":0.6},{"g":"8.94*10⁻⁴","x":0.5,"u":0.62},{"g":"8.94*10⁻⁴","x":0.6,"u":0.6},{"g":"8.94*10⁻⁴","x":0.7,"u":0.55},{"g":"8.94*10⁻⁴","x":0.8,"u":0.47},{"g":"8.94*10⁻⁴","x":0.9,"u":0.36},{"g":"8.94*10⁻⁴","x":1,"u":0.2},
{"g":"1.04*10⁻³","x":0,"u":0.2},{"g":"1.04*10⁻³","x":0.1,"u":0.4},{"g":"1.04*10⁻³","x":0.2,"u":0.55},{"g":"1.04*10⁻³","x":0.3,"u":0.65},{"g":"1.04*10⁻³","x":0.4,"u":0.7},{"g":"1.04*10⁻³","x":0.5,"u":0.72},{"g":"1.04*10⁻³","x":0.6,"u":0.7},{"g":"1.04*10⁻³","x":0.7,"u":0.65},{"g":"1.04*10⁻³","x":0.8,"u":0.55},{"g":"1.04*10⁻³","x":0.9,"u":0.4},{"g":"1.04*10⁻³","x":1,"u":0.2},
{"g":"1.49*10⁻³","x":0,"u":0.2},{"g":"1.49*10⁻³","x":0.1,"u":0.48},{"g":"1.49*10⁻³","x":0.2,"u":0.69},{"g":"1.49*10⁻³","x":0.3,"u":0.84},{"g":"1.49*10⁻³","x":0.4,"u":0.93},{"g":"1.49*10⁻³","x":0.5,"u":0.965},{"g":"1.49*10⁻³","x":0.6,"u":0.94},{"g":"1.49*10⁻³","x":0.7,"u":0.85},{"g":"1.49*10⁻³","x":0.8,"u":0.69},{"g":"1.49*10⁻³","x":0.9,"u":0.48},{"g":"1.49*10⁻³","x":1,"u":0.2},
{"g":"1.86*10⁻³","x":0,"u":0.2},{"g":"1.86*10⁻³","x":0.1,"u":0.57},{"g":"1.86*10⁻³","x":0.2,"u":0.87},{"g":"1.86*10⁻³","x":0.3,"u":1.1},{"g":"1.86*10⁻³","x":0.4,"u":1.26},{"g":"1.86*10⁻³","x":0.5,"u":1.33},{"g":"1.86*10⁻³","x":0.6,"u":1.29},{"g":"1.86*10⁻³","x":0.7,"u":1.15},{"g":"1.86*10⁻³","x":0.8,"u":0.9},{"g":"1.86*10⁻³","x":0.9,"u":0.57},{"g":"1.86*10⁻³","x":1,"u":0.2},
{"g":"2.98*10⁻³","x":0,"u":0.2},{"g":"2.98*10⁻³","x":0.1,"u":0.68},{"g":"2.98*10⁻³","x":0.2,"u":1.1},{"g":"2.98*10⁻³","x":0.3,"u":1.44},{"g":"2.98*10⁻³","x":0.4,"u":1.655},{"g":"2.98*10⁻³","x":0.5,"u":1.745},{"g":"2.98*10⁻³","x":0.6,"u":1.68},{"g":"2.98*10⁻³","x":0.7,"u":1.46},{"g":"2.98*10⁻³","x":0.8,"u":1.14},{"g":"2.98*10⁻³","x":0.9,"u":0.70},{"g":"2.98*10⁻³","x":1,"u":0.2}
]
},
"spacing": 38,
"resolve": {"scale": {"x": "independent", "y": "independent", "color": "independent", "shape": "independent"}, "legend": {"color": "independent", "shape": "independent"}},
"vconcat": [
{
"spacing": 3,
"resolve": {"scale": {"x": "independent", "y": "independent", "color": "independent", "shape": "independent"}, "legend": {"color": "independent", "shape": "independent"}},
"vconcat": [
{
"width": 426, "height": 139,
"layer": [
{"data": {"name": "a1f"}, "mark": {"type": "line", "color": "#333", "strokeWidth": 1.2, "interpolate": "monotone"},
 "encoding": {
  "x": {"field": "x", "type": "quantitative", "scale": {"domain": [0, 1], "nice": false}, "axis": {"values": [0,0.1,0.2,0.3,0.4,0.5,0.6,0.7,0.8,0.9,1], "labels": false, "title": null, "tickSize": {"condition": {"test": "round(datum.value*10)%2==1", "value": 3}, "value": 6}}},
  "y": {"field": "u", "type": "quantitative", "scale": {"domain": [-0.05, 0.6], "nice": false, "zero": false}, "axis": {"title": "Velocity 𝑢 (-)", "values": [0,0.15,0.3,0.45,0.6], "labelExpr": "round(datum.value/0.15)%2==1 ? '' : format(datum.value,'.1f')", "tickSize": {"condition": {"test": "round(datum.value/0.15)%2==1", "value": 3}, "value": 6}}},
  "detail": {"field": "g", "type": "nominal"}}},
{"data": {"name": "a1p"}, "mark": {"type": "point", "filled": true, "size": 42, "opacity": 1},
 "encoding": {
  "x": {"field": "x", "type": "quantitative"},
  "y": {"field": "u", "type": "quantitative"},
  "color": {"field": "g", "type": "nominal", "scale": {"domain": ["5*10⁻⁵","1*10⁻⁴","3*10⁻⁴","7*10⁻⁴","1*10⁻³"], "range": ["#111111","#ee1c24","#1f1fd6","#2b8e8e","#8e8e22"]}, "legend": {"title": null, "labelExpr": "'𝑔=' + datum.label", "padding": 9, "offset": 3}},
  "shape": {"field": "g", "type": "nominal", "scale": {"domain": ["5*10⁻⁵","1*10⁻⁴","3*10⁻⁴","7*10⁻⁴","1*10⁻³"], "range": ["square","circle","triangle-up","triangle-down","triangle-left"]}, "legend": {"title": null, "labelExpr": "'𝑔=' + datum.label", "padding": 9, "offset": 3}}}},
{"data": {"values": [{}]}, "mark": {"type": "text", "text": "(a)", "font": "Liberation Serif", "fontSize": 24, "fontWeight": "bold", "align": "left", "baseline": "alphabetic", "color": "#111"},
 "encoding": {"x": {"datum": 0.025}, "y": {"datum": 0.46}}}
]
},
{
"width": 426, "height": 136,
"layer": [
{"data": {"name": "a2f"}, "mark": {"type": "line", "color": "#333", "strokeWidth": 1.2, "interpolate": "monotone"},
 "encoding": {
  "x": {"field": "x", "type": "quantitative", "scale": {"domain": [0, 1], "nice": false}, "axis": {"values": [0,0.1,0.2,0.3,0.4,0.5,0.6,0.7,0.8,0.9,1], "labelExpr": "round(datum.value*10)%2==1 ? '' : format(datum.value,'.1f')", "title": "Location 𝑥/𝑊", "tickSize": {"condition": {"test": "round(datum.value*10)%2==1", "value": 3}, "value": 6}}},
  "y": {"field": "u", "type": "quantitative", "scale": {"domain": [-0.16, 2], "nice": false, "zero": false}, "axis": {"title": "Velocity 𝑢 (-)", "values": [0,0.5,1,1.5,2], "labelExpr": "round(datum.value*2)%2==1 ? '' : format(datum.value,'d')", "tickSize": {"condition": {"test": "round(datum.value*2)%2==1", "value": 3}, "value": 6}}},
  "detail": {"field": "g", "type": "nominal"}}},
{"data": {"name": "a2p"}, "mark": {"type": "point", "filled": true, "size": 42, "opacity": 1},
 "encoding": {
  "x": {"field": "x", "type": "quantitative"},
  "y": {"field": "u", "type": "quantitative"},
  "color": {"field": "g", "type": "nominal", "scale": {"domain": ["1.2*10⁻³","1.5*10⁻³","2.0*10⁻³","2.5*10⁻³","3.0*10⁻³"], "range": ["#111111","#ee1c24","#1f1fd6","#2b8e8e","#8e8e22"]}, "legend": {"title": null, "labelExpr": "'𝑔=' + datum.label", "padding": 16, "offset": -4}},
  "shape": {"field": "g", "type": "nominal", "scale": {"domain": ["1.2*10⁻³","1.5*10⁻³","2.0*10⁻³","2.5*10⁻³","3.0*10⁻³"], "range": ["square","circle","triangle-up","triangle-down","triangle-left"]}, "legend": {"title": null, "labelExpr": "'𝑔=' + datum.label", "padding": 16, "offset": -4}}}}
]
}
]
},
{
"spacing": 2,
"resolve": {"scale": {"x": "independent", "y": "independent", "color": "independent", "shape": "independent"}, "legend": {"color": "independent", "shape": "independent"}},
"vconcat": [
{
"width": 426, "height": 138,
"layer": [
{"data": {"name": "b1f"}, "mark": {"type": "line", "color": "#333", "strokeWidth": 1.2, "interpolate": "monotone"},
 "encoding": {
  "x": {"field": "x", "type": "quantitative", "scale": {"domain": [0, 1], "nice": false}, "axis": {"values": [0,0.1,0.2,0.3,0.4,0.5,0.6,0.7,0.8,0.9,1], "labels": false, "title": null, "tickSize": {"condition": {"test": "round(datum.value*10)%2==1", "value": 3}, "value": 6}}},
  "y": {"field": "u", "type": "quantitative", "scale": {"domain": [-0.05, 0.6], "nice": false, "zero": false}, "axis": {"title": "Velocity 𝑢 (-)", "values": [0,0.15,0.3,0.45,0.6], "labelExpr": "round(datum.value/0.15)%2==1 ? '' : format(datum.value,'.1f')", "tickSize": {"condition": {"test": "round(datum.value/0.15)%2==1", "value": 3}, "value": 6}}},
  "detail": {"field": "g", "type": "nominal"}}},
{"data": {"name": "b1p"}, "mark": {"type": "point", "filled": true, "size": 42, "opacity": 1},
 "encoding": {
  "x": {"field": "x", "type": "quantitative"},
  "y": {"field": "u", "type": "quantitative"},
  "color": {"field": "g", "type": "nominal", "scale": {"domain": ["3.73*10⁻⁵","7.45*10⁻⁵","2.24*10⁻⁴","5.22*10⁻⁴","7.45*10⁻⁴"], "range": ["#111111","#ee1c24","#1f1fd6","#2b8e8e","#8e8e22"]}, "legend": {"title": null, "labelExpr": "'𝑔=' + datum.label", "padding": 8, "offset": 4}},
  "shape": {"field": "g", "type": "nominal", "scale": {"domain": ["3.73*10⁻⁵","7.45*10⁻⁵","2.24*10⁻⁴","5.22*10⁻⁴","7.45*10⁻⁴"], "range": ["square","circle","triangle-up","triangle-down","triangle-left"]}, "legend": {"title": null, "labelExpr": "'𝑔=' + datum.label", "padding": 8, "offset": 4}}}},
{"data": {"values": [{}]}, "mark": {"type": "text", "text": "(b)", "font": "Liberation Serif", "fontSize": 24, "fontWeight": "bold", "align": "left", "baseline": "alphabetic", "color": "#111"},
 "encoding": {"x": {"datum": 0.025}, "y": {"datum": 0.455}}}
]
},
{
"width": 426, "height": 139,
"layer": [
{"data": {"name": "b2f"}, "mark": {"type": "line", "color": "#333", "strokeWidth": 1.2, "interpolate": "monotone"},
 "encoding": {
  "x": {"field": "x", "type": "quantitative", "scale": {"domain": [0, 1], "nice": false}, "axis": {"values": [0,0.1,0.2,0.3,0.4,0.5,0.6,0.7,0.8,0.9,1], "labelExpr": "round(datum.value*10)%2==1 ? '' : format(datum.value,'.1f')", "title": "Location 𝑥/𝑊", "tickSize": {"condition": {"test": "round(datum.value*10)%2==1", "value": 3}, "value": 6}}},
  "y": {"field": "u", "type": "quantitative", "scale": {"domain": [-0.2, 2], "nice": false, "zero": false}, "axis": {"title": "Velocity 𝑢 (-)", "values": [0,0.5,1,1.5,2], "labelExpr": "round(datum.value*2)%2==1 ? '' : format(datum.value,'d')", "tickSize": {"condition": {"test": "round(datum.value*2)%2==1", "value": 3}, "value": 6}}},
  "detail": {"field": "g", "type": "nominal"}}},
{"data": {"name": "b2p"}, "mark": {"type": "point", "filled": true, "size": 42, "opacity": 1},
 "encoding": {
  "x": {"field": "x", "type": "quantitative"},
  "y": {"field": "u", "type": "quantitative"},
  "color": {"field": "g", "type": "nominal", "scale": {"domain": ["8.94*10⁻⁴","1.04*10⁻³","1.49*10⁻³","1.86*10⁻³","2.98*10⁻³"], "range": ["#111111","#ee1c24","#1f1fd6","#2b8e8e","#8e8e22"]}, "legend": {"title": null, "labelExpr": "'𝑔=' + datum.label", "padding": 10, "offset": 2}},
  "shape": {"field": "g", "type": "nominal", "scale": {"domain": ["8.94*10⁻⁴","1.04*10⁻³","1.49*10⁻³","1.86*10⁻³","2.98*10⁻³"], "range": ["square","circle","triangle-up","triangle-down","triangle-left"]}, "legend": {"title": null, "labelExpr": "'𝑔=' + datum.label", "padding": 10, "offset": 2}}}}
]
}
]
}
],
"config": {
"font": "Liberation Sans",
"view": {"stroke": "#333", "strokeWidth": 1.2},
"axis": {"domainColor": "#333", "domainWidth": 1.2, "tickColor": "#333", "tickWidth": 1.2, "labelColor": "#222", "titleColor": "#222", "labelFont": "Liberation Sans", "titleFont": "Liberation Sans", "labelFontSize": 16, "titleFontSize": 17, "titleFontWeight": "normal", "grid": false, "labelPadding": 6},
"axisY": {"minExtent": 34, "titlePadding": 6},
"axisX": {"titlePadding": 10, "labelFlush": false},
"legend": {"labelFont": "Liberation Sans", "labelFontSize": 16, "labelColor": "#222", "symbolSize": 42, "rowPadding": 7, "labelOffset": 16, "symbolStrokeWidth": 0}
}
}
